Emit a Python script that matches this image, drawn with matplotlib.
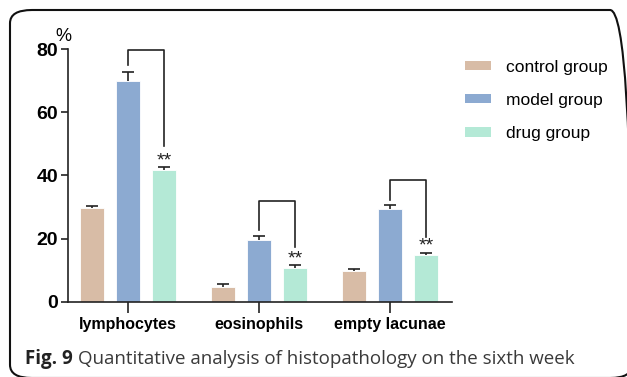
import numpy as np
import matplotlib
matplotlib.use("Agg")
import matplotlib.pyplot as plt
from matplotlib.patches import FancyBboxPatch, Patch

# histopathology counts, % per group
categories = ["lymphocytes", "eosinophils", "empty lacunae"]
groups = ["control group", "model group", "drug group"]
control = [29.7, 4.6, 9.9]
model = [69.9, 19.7, 29.4]
drug = [41.8, 10.6, 14.8]
control_err = [0.8, 1.0, 0.6]
model_err = [2.9, 1.2, 1.2]
drug_err = [1.0, 1.0, 0.7]
# significance brackets: (left foot, top, right foot), marker height
brackets = [(75.0, 79.7, 49.4), (22.8, 32.0, 17.5), (32.2, 38.6, 20.6)]
stars_y = [42.0, 10.9, 15.0]

colors = ["#d8bca6", "#8caad1", "#b4e9d6"]
ink = "#222222"

fig = plt.figure(figsize=(6.27, 3.77), dpi=100)
ax = fig.add_axes([0.1085, 0.199, 0.612, 0.671])

x = np.arange(len(categories))
off = 0.275
w = 0.183
cap = 0.045
series = [(control, control_err), (model, model_err), (drug, drug_err)]
for k, (vals, errs) in enumerate(series):
    pos = x + (k - 1) * off
    vals = np.array(vals)
    tops = vals + np.array(errs)
    ax.bar(pos, vals, width=w, color=colors[k], edgecolor="white", linewidth=0.6, zorder=2)
    # upper error bars only
    ax.vlines(pos, vals, tops, color=ink, lw=1.2, zorder=3)
    ax.hlines(tops, pos - cap, pos + cap, color=ink, lw=1.2, zorder=3)

for i, (l, t, r) in enumerate(brackets):
    xl = x[i]
    xr = x[i] + off
    ax.plot([xl, xl, xr, xr], [l, t, t, r], color=ink, lw=1.2, clip_on=False, zorder=3)
    ax.text(xr, stars_y[i], "**", ha="center", va="bottom", fontsize=14,
            family="Liberation Sans", color=ink)

ax.set_xlim(-0.46, 2.47)
ax.set_ylim(0, 80)
ax.set_yticks([0, 20, 40, 60, 80])
ax.set_xticks(x)
ax.set_xticklabels(categories, fontsize=11.5, fontweight="bold", family="Liberation Sans")
for lab in ax.get_yticklabels():
    lab.set_fontsize(14)
    lab.set_fontweight("bold")
    lab.set_family("Liberation Sans")
ax.spines["top"].set_visible(False)
ax.spines["right"].set_visible(False)
for s in ["left", "bottom"]:
    ax.spines[s].set_linewidth(1.2)
    ax.spines[s].set_color(ink)
ax.tick_params(axis="y", length=5, width=1.2, pad=2, color=ink)
ax.tick_params(axis="x", length=8, width=1.2, pad=3, color=ink)

fig.text(0.088, 0.89, "%", fontsize=13, family="Liberation Sans")

handles = [Patch(facecolor=c, edgecolor="none") for c in colors]
fig.legend(handles, groups, loc="upper left", bbox_to_anchor=(0.716, 0.883),
           frameon=False, prop={"family": "Liberation Sans", "size": 12.5},
           handlelength=1.55, handleheight=0.45, handletextpad=0.85, labelspacing=1.05)

# rounded frame around the figure panel
frame = FancyBboxPatch((10 / 627, 1 - 378 / 377), 622 / 627, 368 / 377,
                       boxstyle="round,pad=0,rounding_size=0.035",
                       transform=fig.transFigure, fill=False, edgecolor="#111111",
                       linewidth=1.5, clip_on=False)
fig.patches.append(frame)

# caption: bold label then plain text
t1 = fig.text(25 / 627, 1 - 364 / 377, "Fig. 9", fontsize=13.5, fontweight="bold",
              family="Open Sans", va="baseline", color="#222222")
fig.canvas.draw()
bb = t1.get_window_extent()
fig.text((bb.x1 + 5) / 627, 1 - 364 / 377,
         "Quantitative analysis of histopathology on the sixth week",
         fontsize=13.5, family="Open Sans", va="baseline", color="#3a3a3a")

fig.savefig("out.png", dpi=100)
